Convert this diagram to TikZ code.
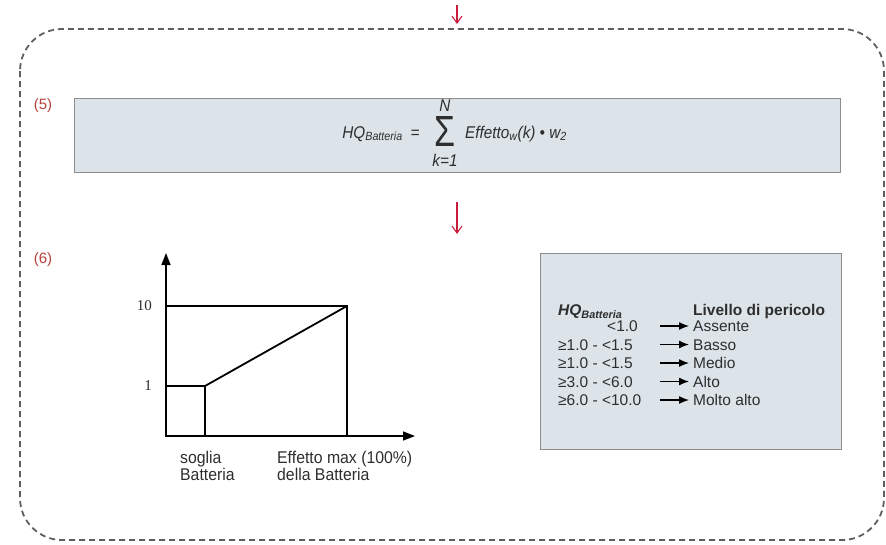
\documentclass[tikz,border=0pt]{standalone}
\usepackage{fontspec}
\usepackage{graphicx}
\setmainfont{Liberation Sans}
\newfontfamily\numfont{Liberation Serif}
\newfontfamily\condfont[FakeStretch=0.9]{Liberation Sans}
\newfontfamily\condlab[FakeStretch=0.93]{Liberation Sans}
\usetikzlibrary{arrows.meta}
\definecolor{boxfill}{HTML}{DCE4E9}
\definecolor{boxline}{HTML}{8C8C8C}
\definecolor{redarrow}{HTML}{C81E3C}
\definecolor{steplabel}{HTML}{B8403A}
\definecolor{dashgray}{HTML}{5F5F5F}
\definecolor{txt}{HTML}{2E2E2E}
\begin{document}
\begin{tikzpicture}[x=1pt,y=-1pt,
  panel/.style={draw=boxline, fill=boxfill, line width=0.9pt, inner sep=0pt},
  steplab/.style={text=steplabel, font=\fontsize{15}{17}\selectfont, inner sep=0pt},
  redarr/.style={draw=redarrow, line width=1.1pt, -{Straight Barb[length=7pt,width=10pt]}},
  axisline/.style={line width=1.6pt, -{Triangle[length=12pt,width=9pt]}},
  curveline/.style={line width=1.8pt},
  tab/.style={font=\fontsize{15.5}{18}\selectfont, inner sep=0pt, text=txt},
  tabarr/.style={line width=1.3pt, -{Latex[length=10pt,width=8pt]}},
  lab/.style={font=\fontsize{17}{18}\condlab, inner sep=0pt, text=txt, anchor=base west},
  form/.style={font=\fontsize{17}{19}\condfont\itshape, inner sep=0pt, text=txt},
  num/.style={font=\fontsize{15}{17}\numfont, inner sep=0pt, text=txt, anchor=east}
]
\useasboundingbox (0,0) rectangle (886,544);

% dashed frame
\draw[dashgray, line width=1.8pt, dash pattern=on 6pt off 4pt, rounded corners=42pt]
  (20,29) rectangle (884,540);

% top arrow
\coordinate (topA) at (457,5);
\coordinate (topB) at (457,24);
\draw[redarr] (topA) -- (topB);

% step (5)
\node[steplab] (s5) at (43,106) {(5)};
\node[panel, minimum width=766pt, minimum height=74pt] (fbox) at (457,135) {};
\node[form, anchor=base east] (hq) at (403,138) {HQ\textsubscript{Batteria}};
\node[form, anchor=base] (eq) at (415,138) {=};
\node[form, align=center, anchor=north] (sig) at (445,99.8)
  {N\\[4pt]\resizebox{21pt}{30pt}{\upshape Σ}\\[1pt]k=1};
\node[form, anchor=base west] (eff) at (465,138) {Effetto\textsubscript{w}(k) \textbullet{} w\textsubscript{2}};

% middle arrow
\coordinate (midA) at (457,202);
\coordinate (midB) at (457,234);
\draw[redarr] (midA) -- (midB);

% step (6)
\node[steplab] (s6) at (43,260) {(6)};

% chart
\coordinate (O) at (166,436);
\coordinate (ytip) at (166,253);
\coordinate (xtip) at (415,436);
\coordinate (t10) at (166,306);
\coordinate (t1) at (166,386);
\coordinate (thr) at (205,386);
\coordinate (thrb) at (205,436);
\coordinate (mx) at (347,306);
\coordinate (mxb) at (347,436);
\draw[axisline] (166,437) -- (ytip);
\draw[axisline] (165,436) -- (xtip);
\draw[curveline] (t10) -- (mx) -- (mxb);
\draw[curveline] (t1) -- (thr) -- (thrb);
\draw[curveline, line cap=round] (thr) -- (mx);
\node[num] (n10) at (152,306) {10};
\node[num] (n1) at (152,386) {1};
\node[lab] (sg1) at (180,463) {soglia};
\node[lab] (sg2) at (180,480) {Batteria};
\node[lab] (em1) at (277,463) {Effetto max (100\%)};
\node[lab] (em2) at (277,480) {della Batteria};

% table
\node[panel, minimum width=301pt, minimum height=196pt] (tbox) at (690.5,351) {};
\node[tab, anchor=base west, font=\fontsize{15.5}{18}\selectfont\bfseries\itshape] (th1) at (558,315.5) {HQ\textsubscript{Batteria}};
\node[tab, anchor=base west, font=\fontsize{15.5}{18}\selectfont\bfseries] (th2) at (693,315.5) {Livello di pericolo};
\node[tab, anchor=base east] (r1l) at (638,331.5) {<1.0};
\node[tab, anchor=base west] (r2l) at (558,350) {≥1.0 - <1.5};
\node[tab, anchor=base west] (r3l) at (558,368.5) {≥1.0 - <1.5};
\node[tab, anchor=base west] (r4l) at (558,387) {≥3.0 - <6.0};
\node[tab, anchor=base west] (r5l) at (558,405.5) {≥6.0 - <10.0};
\node[tab, anchor=base west] (r1r) at (693,331.5) {Assente};
\node[tab, anchor=base west] (r2r) at (693,350) {Basso};
\node[tab, anchor=base west] (r3r) at (693,368.5) {Medio};
\node[tab, anchor=base west] (r4r) at (693,387) {Alto};
\node[tab, anchor=base west] (r5r) at (693,405.5) {Molto alto};
\foreach \y [count=\i] in {326,344.5,363,381.5,400} {
  \coordinate (aS\i) at (660,\y);
  \coordinate (aE\i) at (689,\y);
  \draw[tabarr] (aS\i) -- (aE\i);
}
\end{tikzpicture}
\end{document}
